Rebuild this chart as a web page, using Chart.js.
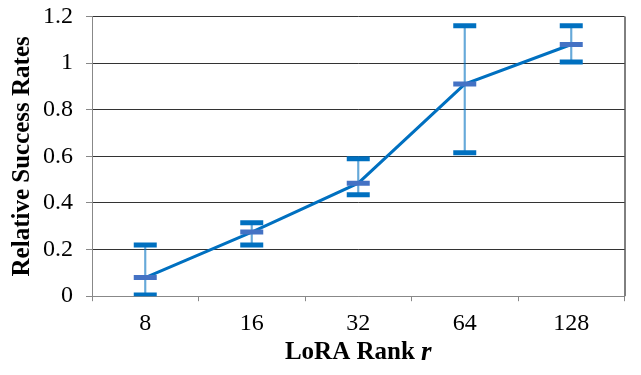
<!DOCTYPE html>
<html>
<head>
<meta charset="utf-8">
<script src="https://cdn.jsdelivr.net/npm/chart.js@4/dist/chart.umd.min.js"></script>
<style>
  html, body { margin: 0; padding: 0; background: #fff; }
  #wrap { width: 641px; height: 375px; }
</style>
</head>
<body>
<div id="wrap"><canvas id="rankChart"></canvas></div>
<script>
const ranks = ['8', '16', '32', '64', '128'];
const meanRates = [0.08, 0.275, 0.485, 0.91, 1.08];
const upperRates = [0.22, 0.315, 0.59, 1.16, 1.16];
const lowerRates = [0.005, 0.22, 0.435, 0.615, 1.005];
const yTickLabels = ['0', '0.2', '0.4', '0.6', '0.8', '1', '1.2'];

const serif = '"Liberation Serif", "Times New Roman", serif';

// right border of the plot + x title with italic r
const frame = {
    id: 'frame',
    beforeDatasetsDraw(chart) {
        const { ctx, chartArea } = chart;
        ctx.save();
        ctx.strokeStyle = '#000';
        ctx.lineWidth = 1;
        ctx.beginPath();
        ctx.moveTo(chartArea.right + 0.5, chartArea.top);
        ctx.lineTo(chartArea.right + 0.5, chartArea.bottom);
        ctx.stroke();
        ctx.restore();
    },
    afterDraw(chart) {
        const { ctx, chartArea } = chart;
        const x = chart.scales.x;
        const a = 'LoRA Rank ', b = 'r';
        ctx.save();
        ctx.fillStyle = '#000';
        ctx.textBaseline = 'middle';
        ctx.font = 'bold 25px ' + serif;
        const wa = ctx.measureText(a).width;
        ctx.font = 'italic bold 27px ' + serif;
        const wb = ctx.measureText(b).width;
        const cx = (chartArea.left + chartArea.right) / 2;
        const y = x.bottom + 7;
        ctx.textAlign = 'left';
        ctx.font = 'bold 25px ' + serif;
        ctx.fillText(a, cx - (wa + wb) / 2, y);
        ctx.font = 'italic bold 27px ' + serif;
        ctx.fillText(b, cx - (wa + wb) / 2 + wa, y);
        ctx.restore();
    }
};

document.addEventListener('DOMContentLoaded', function () {
    const ctx = document.getElementById('rankChart').getContext('2d');
    new Chart(ctx, {
        data: {
            labels: ranks,
            datasets: [{
                type: 'line',
                label: 'Mean',
                data: meanRates,
                borderColor: '#0070C0',
                borderWidth: 3,
                tension: 0,
                pointStyle: 'line',
                pointRadius: 11.5,
                pointBorderWidth: 5,
                pointBorderColor: '#4472C4',
                order: 1
            }, {
                type: 'line',
                label: 'Upper',
                data: upperRates,
                showLine: false,
                pointStyle: 'line',
                pointRadius: 11.5,
                pointBorderWidth: 5,
                pointBorderColor: '#0070C0',
                order: 2
            }, {
                type: 'line',
                label: 'Lower',
                data: lowerRates,
                showLine: false,
                pointStyle: 'line',
                pointRadius: 11.5,
                pointBorderWidth: 5,
                pointBorderColor: '#0070C0',
                order: 3
            }, {
                type: 'bar',
                label: 'Range',
                data: lowerRates.map((lo, i) => [lo, upperRates[i]]),
                backgroundColor: 'rgba(0, 112, 192, 0.6)',
                barThickness: 1.5,
                order: 4
            }]
        },
        options: {
            responsive: true,
            maintainAspectRatio: false,
            animation: false,
            events: [],
            layout: { padding: { top: 0, right: 10, bottom: 29, left: 6 } },
            plugins: { legend: { display: false }, tooltip: { enabled: false } },
            scales: {
                x: {
                    offset: true,
                    grid: {
                        offset: true,
                        drawOnChartArea: false,
                        tickLength: 5,
                        color: '#888'
                    },
                    border: { color: '#888' },
                    ticks: {
                        color: '#000',
                        padding: 8,
                        font: { family: serif, size: 24 }
                    }
                },
                y: {
                    min: 0,
                    max: 1.2,
                    grid: {
                        color: (c) => (c.tick && c.tick.value === 0 ? '#888' : '#333'),
                        tickColor: '#888',
                        tickLength: 6
                    },
                    border: { color: '#888' },
                    ticks: {
                        stepSize: 0.2,
                        color: '#000',
                        padding: 13,
                        font: { family: serif, size: 24, lineHeight: 0.05 },
                        callback: (v, i) => yTickLabels[i]
                    },
                    title: {
                        display: true,
                        text: 'Relative Success Rates',
                        color: '#000',
                        padding: { top: 2, bottom: -8 },
                        font: { family: serif, size: 25, weight: 'bold' }
                    }
                }
            }
        },
        plugins: [frame]
    });
});
</script>
</body>
</html>
